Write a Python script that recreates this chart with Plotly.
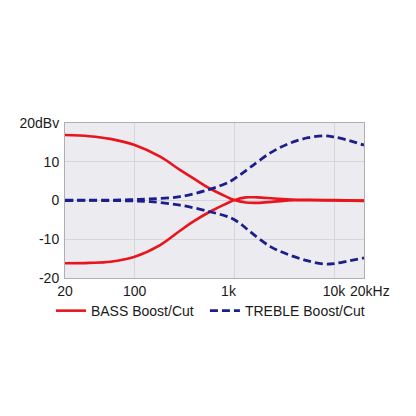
import math
import plotly.graph_objects as go

bass_freq = [20, 35, 57, 100, 180, 285, 400, 569, 800, 1000, 1300, 1700, 2500, 4000, 10000, 20000]
bass_boost = [16.9, 16.6, 15.9, 14.3, 11.3, 7.9, 5.5, 3.1, 1.2, 0.1, -0.5, -0.6, -0.3, 0.1, 0.1, 0.0]
bass_cut = [-16.2, -16.1, -15.8, -14.5, -11.5, -7.8, -5.2, -2.9, -1.0, 0.1, 0.8, 0.8, 0.5, 0.2, 0.0, -0.1]

treble_freq = [20, 50, 90, 143, 285, 569, 904, 1140, 1435, 2300, 3600, 5500, 8000, 10000, 14000, 20000]
treble_boost = [0.1, 0.1, 0.2, 0.4, 1.0, 2.9, 4.9, 6.6, 8.5, 12.3, 14.8, 16.2, 16.7, 16.4, 15.5, 14.3]
treble_cut = [0.0, 0.0, -0.1, -0.3, -1.2, -2.9, -4.4, -5.9, -8.0, -11.9, -14.1, -15.6, -16.4, -16.3, -15.6, -14.8]

NB = "\u00a0"
x_tickvals = [20, 100, 1000, 10000, 20000]
x_ticktext = ["20", "100", "1k" + NB * 3, "10k", ""]
x_end_label = "20kHz"
y_tickvals = [-20, -10, 0, 10, 20]
y_ticktext = ["-20", "-10", "0", "10", "20dBv"]

RED = "#e8141e"
BLUE = "#1c1f8a"

fig = go.Figure()
fig.add_trace(go.Scatter(x=bass_freq, y=bass_boost, mode="lines",
                         line=dict(color=RED, width=2.6, shape="spline", smoothing=1.0),
                         name="BASS Boost/Cut", legendgroup="b", legend="legend"))
fig.add_trace(go.Scatter(x=bass_freq, y=bass_cut, mode="lines",
                         line=dict(color=RED, width=2.6, shape="spline", smoothing=1.0),
                         name="BASS Boost/Cut", legendgroup="b", showlegend=False, legend="legend"))
fig.add_trace(go.Scatter(x=treble_freq, y=treble_boost, mode="lines",
                         line=dict(color=BLUE, width=2.8, dash="8px,4px", shape="spline", smoothing=1.0),
                         name="TREBLE Boost/Cut", legendgroup="t", legend="legend2"))
fig.add_trace(go.Scatter(x=treble_freq, y=treble_cut, mode="lines",
                         line=dict(color=BLUE, width=2.8, dash="8px,4px", shape="spline", smoothing=1.0),
                         name="TREBLE Boost/Cut", legendgroup="t", showlegend=False, legend="legend2"))

legend_common = dict(orientation="h", xanchor="left", y=-0.11, yanchor="top",
                     font=dict(size=14, color="#1a1a1a"), bgcolor="rgba(0,0,0,0)")

fig.update_layout(
    width=416, height=416,
    margin=dict(l=65, r=52, t=123, b=138),
    paper_bgcolor="white",
    plot_bgcolor="#ececf0",
    font=dict(family="Liberation Sans, Arial, sans-serif", size=14, color="#1a1a1a"),
    showlegend=True,
    legend=dict(x=-0.047, **legend_common),
    legend2=dict(x=0.468, **legend_common),
)
fig.add_annotation(x=math.log10(x_tickvals[-1]), xref="x", y=0, yref="paper",
                   text=x_end_label, showarrow=False, xanchor="center", yanchor="top",
                   xshift=6, yshift=-3, font=dict(size=14, color="#1a1a1a"))
fig.update_xaxes(type="log", range=[1.30103, 4.30103], tickvals=x_tickvals, ticktext=x_ticktext,
                 tickangle=0,
                 showgrid=True, gridcolor="#d6d6da", gridwidth=1, zeroline=False,
                 showline=True, linecolor="#b0b0b4", linewidth=1, mirror=True, ticks="", ticklabelstandoff=0)
fig.update_yaxes(range=[-20, 20], tickvals=y_tickvals, ticktext=y_ticktext,
                 showgrid=True, gridcolor="#d6d6da", gridwidth=1, zeroline=False,
                 showline=True, linecolor="#b0b0b4", linewidth=1, mirror=True, ticks="", ticklabelstandoff=2)

fig.write_html("out.html")
